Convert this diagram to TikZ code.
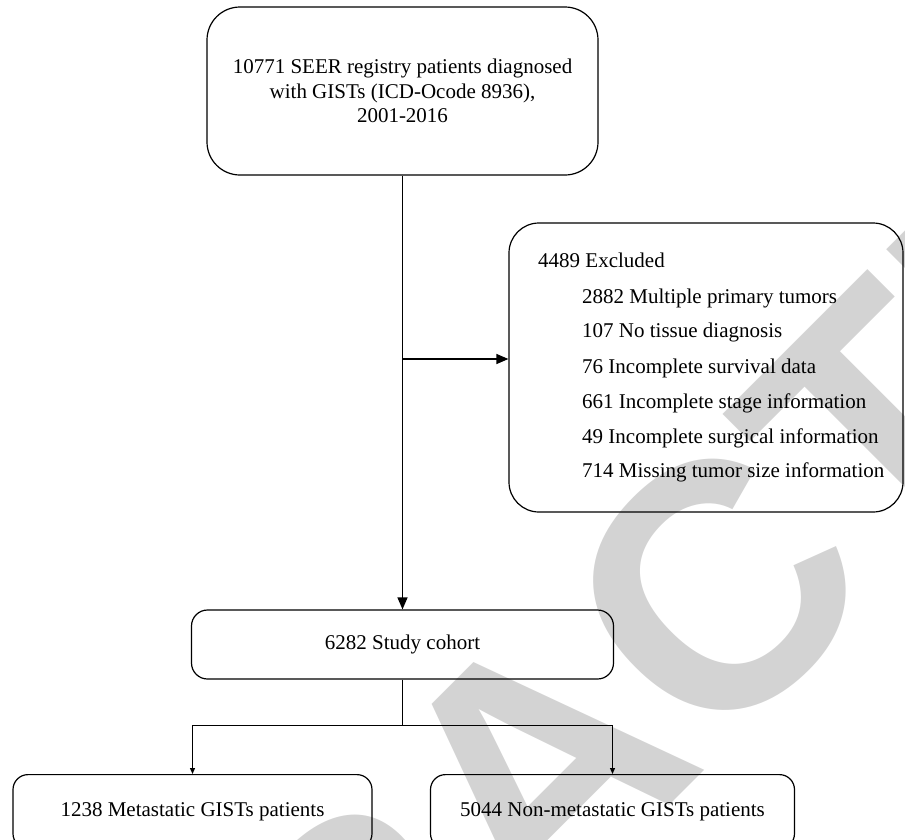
\documentclass[tikz,border=0pt]{standalone}
\usepackage{fontspec}
\setmainfont{Liberation Serif}
\newfontfamily\wmfont{Liberation Sans}
\usetikzlibrary{arrows.meta}
\definecolor{wmgray}{RGB}{211,211,211}
\begin{document}
\begin{tikzpicture}[x=1pt,y=1pt,
  flowbox/.style={draw=black, line width=1.2pt, inner sep=0pt, align=center,
    font=\fontsize{21}{24.5}\selectfont},
  lbl/.style={inner sep=0pt, anchor=base west, font=\fontsize{21}{25}\selectfont},
  conn/.style={line width=1.2pt},
  bigarrow/.style={conn, -{Triangle[length=12pt,width=10pt]}},
  smallarrow/.style={conn, -{Triangle[length=6pt,width=5pt]}}
]
\useasboundingbox (0,0) rectangle (905,-839);
\clip (0,0) rectangle (905,-839);
% watermark
\node[rotate=45, inner sep=0pt, text=wmgray,
  font=\wmfont\bfseries\fontsize{348}{348}\selectfont] (wm) at (538,-768) {RETRACTED};

% boxes
\node[flowbox, rounded corners=33pt, minimum width=391pt, minimum height=168pt]
  (src) at (402.5,-91) {10771 SEER registry patients diagnosed\\with GISTs (ICD-Ocode 8936),\\2001-2016};
\node[flowbox, rounded corners=30pt, minimum width=394pt, minimum height=289pt]
  (excl) at (706,-367.5) {};
\node[lbl] (e0) at (538,-267) {4489 Excluded};
\node[lbl] (e1) at (582,-303) {2882 Multiple primary tumors};
\node[lbl] (e2) at (582,-337) {107 No tissue diagnosis};
\node[lbl] (e3) at (582,-373) {76 Incomplete survival data};
\node[lbl] (e4) at (582,-408) {661 Incomplete stage information};
\node[lbl] (e5) at (582,-443) {49 Incomplete surgical information};
\node[lbl] (e6) at (582,-477) {714 Missing tumor size information};

\node[flowbox, rounded corners=16pt, minimum width=422pt, minimum height=69pt]
  (cohort) at (402.5,-644.5) {6282 Study cohort};
\node[flowbox, rounded corners=15pt, minimum width=359pt, minimum height=74pt, anchor=north]
  (meta) at (192.5,-774) {\raisebox{4pt}{1238 Metastatic GISTs patients}};
\node[flowbox, rounded corners=15pt, minimum width=364pt, minimum height=74pt, anchor=north]
  (nonmeta) at (612.5,-774) {\raisebox{4pt}{5044 Non-metastatic GISTs patients}};

% connectors
\draw[bigarrow] (src.south) -- (cohort.north);
\coordinate (br) at (402.5,-359);
\draw[bigarrow] (br) -- (br -| excl.west);
\draw[conn] (cohort.south) -- ++(0,-46) coordinate (split);
\draw[smallarrow] (split) -| (meta.north);
\draw[smallarrow] (split) -| (nonmeta.north);
\end{tikzpicture}
\end{document}
